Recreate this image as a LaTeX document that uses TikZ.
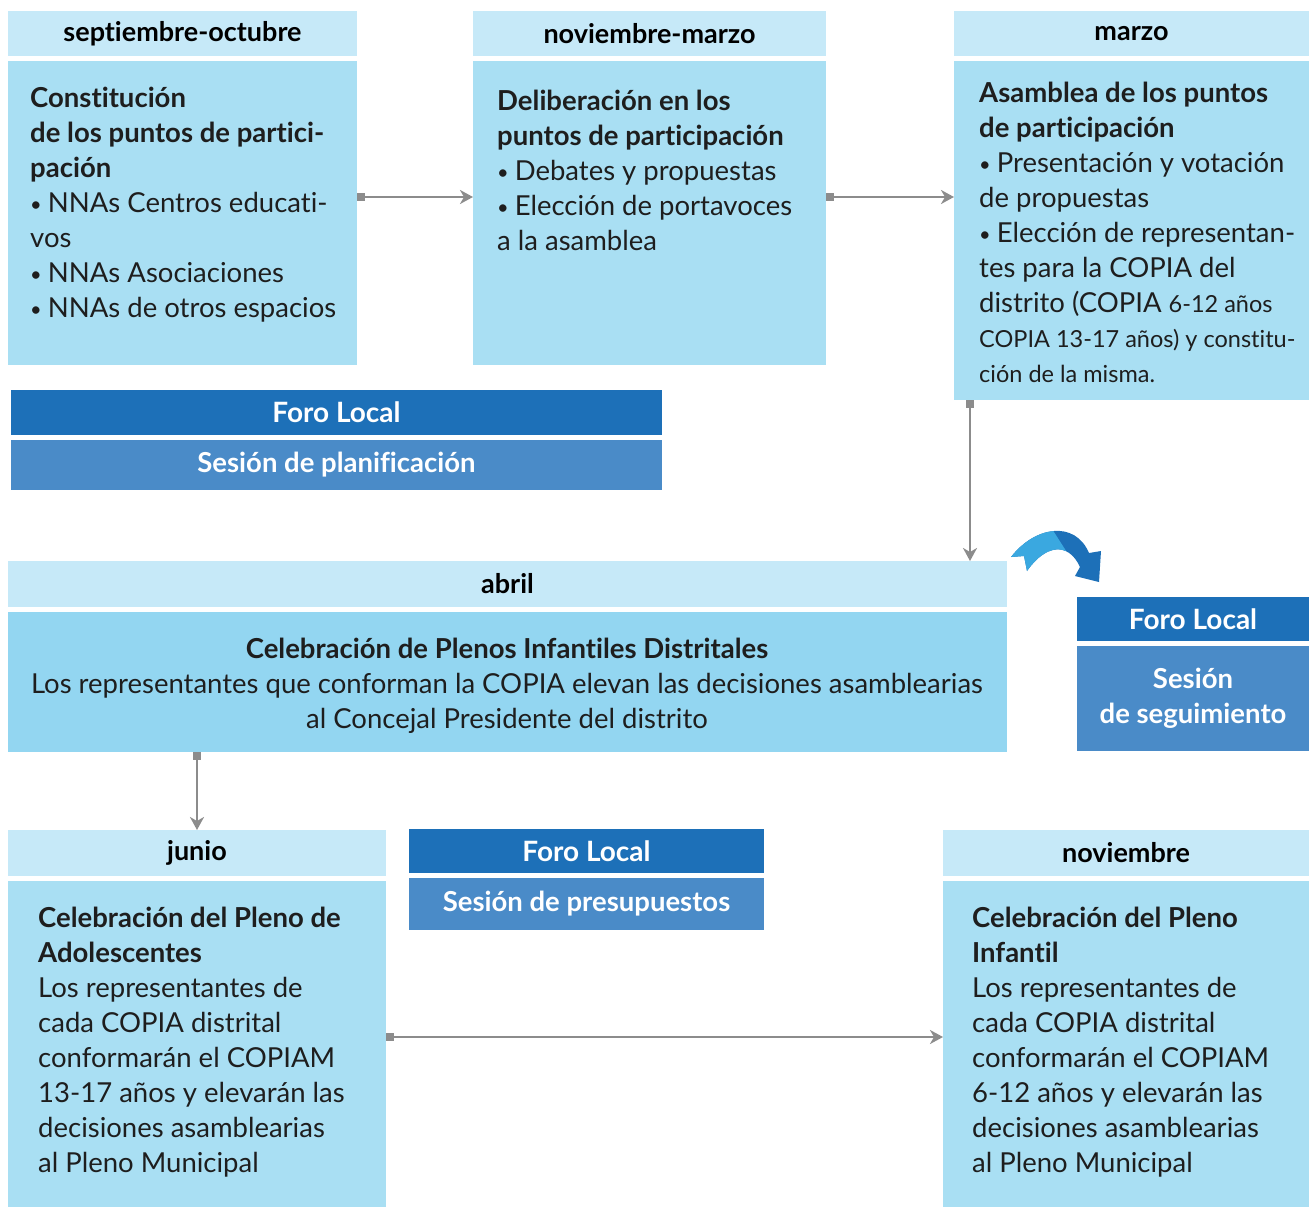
\documentclass[tikz,border=0pt]{standalone}
\usepackage{fontspec}
\setmainfont{Lato}[Ligatures=NoCommon]
\usetikzlibrary{arrows.meta}
\definecolor{hdrc}{HTML}{C6E9F8}
\definecolor{bodyc}{HTML}{A9DFF3}
\definecolor{abrc}{HTML}{93D6F1}
\definecolor{darkc}{HTML}{1D70B8}
\definecolor{midc}{HTML}{4A8BC8}
\definecolor{lightarr}{HTML}{3AA8E0}
\definecolor{grayc}{HTML}{8C8C8C}
\definecolor{txtc}{HTML}{1E1E1E}
\tikzset{
  rect/.style={anchor=north west, inner sep=0pt, outer sep=0pt, draw=none},
  hdr/.style={rect, fill=hdrc, text=black, font=\bfseries\fontsize{27}{30}\selectfont},
  bodybox/.style={rect, fill=bodyc},
  darkbox/.style={rect, fill=darkc, text=white, font=\bfseries\fontsize{28}{30}\selectfont},
  midbox/.style={rect, fill=midc, text=white, font=\bfseries\fontsize{27.5}{35}\selectfont, align=center},
  txt/.style={anchor=north west, inner sep=0pt, align=left, text=txtc, font=\fontsize{27.5}{35}\selectfont},
  conn/.style={draw=grayc, line width=2.5pt, {Square[length=8pt,width=8pt]}-{Stealth[length=13pt,width=14pt,inset=4pt]}},
}
\newcommand{\bt}[1]{{\bfseries #1}}
\newcommand{\sm}[1]{{\fontsize{23.5}{32}\selectfont #1}}
\newcommand{\bul}{\raisebox{1.5pt}{\fontsize{20}{20}\selectfont•}\hspace{6pt}}
\begin{document}
\begin{tikzpicture}[x=1pt,y=-1pt]
\useasboundingbox (0,0) rectangle (1309,1207);
% column 1
\node[hdr, minimum width=349pt, minimum height=45pt] (h1) at (8,11) {septiembre-octubre};
\node[bodybox, minimum width=349pt, minimum height=304pt] (b1) at (8,61) {};
\node[txt] (t1) at (30,87) {\bt{Constitución}\\\bt{de los puntos de partici-}\\\bt{pación}\\\bul NNAs Centros educati-\\vos\\\bul NNAs Asociaciones\\\bul NNAs de otros espacios};
% column 2
\node[hdr, minimum width=353pt, minimum height=45pt] (h2) at (473,11) {noviembre-marzo};
\node[bodybox, minimum width=353pt, minimum height=304pt] (b2) at (473,61) {};
\node[txt] (t2) at (497,90) {\bt{Deliberación en los}\\\bt{puntos de participación}\\\bul Debates y propuestas\\\bul Elección de portavoces\\a la asamblea};
% column 3
\node[hdr, minimum width=355pt, minimum height=45pt] (h3) at (954,11) {marzo};
\node[bodybox, minimum width=355pt, minimum height=339pt] (b3) at (954,61) {};
\node[txt] (t3) at (979,82) {\bt{Asamblea de los puntos}\\\bt{de participación}\\\bul Presentación y votación\\de propuestas\\\bul Elección de representan-\\tes para la COPIA del\\distrito (COPIA \sm{6-12 años}\\\sm{COPIA 13-17 años) y constitu-}\\\sm{ción de la misma.}};
% Foro local 1
\node[darkbox, minimum width=651pt, minimum height=45pt] (f1) at (11,390) {Foro Local};
\node[midbox, minimum width=651pt, minimum height=50pt] (s1) at (11,440) {Sesión de planificación};
% abril
\node[hdr, minimum width=999pt, minimum height=46pt] (h4) at (8,561) {abril};
\node[rect, fill=abrc, minimum width=999pt, minimum height=140pt] (b4) at (8,612) {};
\node[txt, anchor=north, align=center] (t4) at (507,638) {\bt{Celebración de Plenos Infantiles Distritales}\\Los representantes que conforman la COPIA elevan las decisiones asamblearias\\al Concejal Presidente del distrito};
% Foro local right
\node[darkbox, minimum width=232pt, minimum height=44pt] (f2) at (1077,597) {Foro Local};
\node[midbox, minimum width=232pt, minimum height=105pt] (s2) at (1077,646) {Sesión\\de seguimiento};
% junio
\node[hdr, minimum width=378pt, minimum height=46pt] (h5) at (8,830) {junio};
\node[bodybox, minimum width=378pt, minimum height=326pt] (b5) at (8,881) {};
\node[txt] (t5) at (38,907) {\bt{Celebración del Pleno de}\\\bt{Adolescentes}\\Los representantes de\\cada COPIA distrital\\conformarán el COPIAM\\13-17 años y elevarán las\\decisiones asamblearias\\al Pleno Municipal};
% Foro local middle
\node[darkbox, minimum width=355pt, minimum height=44pt] (f3) at (409,829) {Foro Local};
\node[midbox, minimum width=355pt, minimum height=52pt] (s3) at (409,878) {Sesión de presupuestos};
% noviembre
\node[hdr, minimum width=366pt, minimum height=46pt] (h6) at (943,830) {noviembre};
\node[bodybox, minimum width=366pt, minimum height=326pt] (b6) at (943,881) {};
\node[txt] (t6) at (972,907) {\bt{Celebración del Pleno}\\\bt{Infantil}\\Los representantes de\\cada COPIA distrital\\conformarán el COPIAM\\6-12 años y elevarán las\\decisiones asamblearias\\al Pleno Municipal};
% connectors
\draw[conn] ([yshift=16pt]b1.east) -- ([yshift=16pt]b1.east -| b2.west);
\draw[conn] ([yshift=16pt]b2.east) -- ([yshift=16pt]b2.east -| b3.west);
\draw[conn] ([xshift=16pt]b3.south west) -- ([xshift=16pt]b3.south west |- h4.north);
\draw[conn] (b4.south -| h5.north) -- (h5.north);
\draw[conn] ([yshift=7pt]b5.east) -- ([yshift=7pt]b5.east -| b6.west);
% curved arrow
\def\curvarr{(1011,557) .. controls (1035,526) and (1075,520) .. (1089,553) -- (1101,551) -- (1099,582) -- (1075,576) -- (1080,567) .. controls (1068,541) and (1045,545) .. (1027,571) -- (1024,556) -- cycle}
\fill[darkc] \curvarr;
\begin{scope}
\clip (1000,510) -- (1040,510) -- (1075,565) -- (1000,600) -- cycle;
\fill[lightarr] \curvarr;
\end{scope}
\end{tikzpicture}
\end{document}
